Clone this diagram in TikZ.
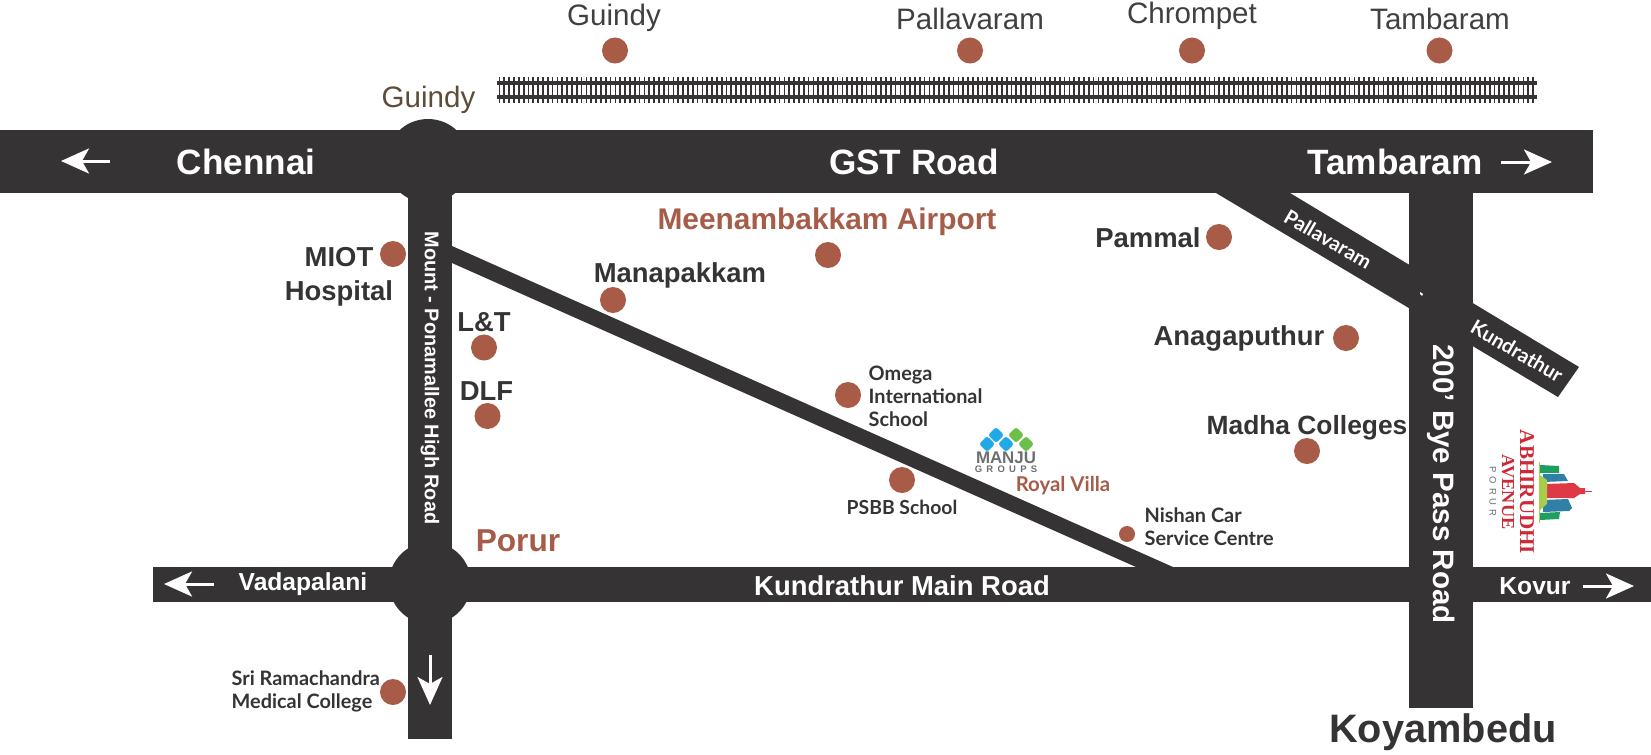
\documentclass[tikz,border=0pt]{standalone}
\usepackage{fontspec}
\usepackage{xcolor}
\usepackage{tikz}
\usetikzlibrary{arrows.meta}
\setmainfont{Liberation Sans}
\newfontfamily\latofont{Lato}
\newfontfamily\logofont{Liberation Serif}
\definecolor{roadc}{HTML}{353334}
\definecolor{dotc}{HTML}{A85C48}
\definecolor{brownt}{HTML}{A55D4A}
\definecolor{toptext}{HTML}{404040}
\definecolor{guindyt}{HTML}{5C4C38}
\definecolor{logored}{HTML}{CC2A36}
\definecolor{logogrey}{HTML}{6D6E70}
\definecolor{manjublue}{HTML}{1FA9E6}
\definecolor{manjugreen}{HTML}{6CC04A}
\definecolor{towergreen}{HTML}{1F9E62}
\definecolor{towerblue}{HTML}{2F7FA6}
\definecolor{towerred}{HTML}{DD3A46}
\definecolor{towerlime}{HTML}{A6CE48}
\tikzset{
  road/.style={fill=roadc, draw=none},
  rail/.style={draw=roadc, line width=0.35mm},
  tie/.style={draw=roadc, line width=0.17mm},
  pt/.style={circle, fill=dotc, draw=none, minimum size=2.6mm, inner sep=0pt},
  smallpt/.style={circle, fill=dotc, draw=none, minimum size=1.6mm, inner sep=0pt},
  arroww/.style={draw=white, line width=0.3mm, -{Stealth[length=2.8mm,width=2.5mm,inset=0.7mm]}},
  stationlab/.style={text=toptext, font=\fontsize{8.4}{10}\selectfont, inner sep=0pt},
  bigroad/.style={text=white, font=\fontsize{10}{12}\selectfont\bfseries, inner sep=0pt},
  midroad/.style={text=white, font=\fontsize{7}{9}\selectfont\bfseries, inner sep=0pt},
  place/.style={text=roadc, font=\fontsize{7.8}{9.6}\selectfont\bfseries, inner sep=0pt},
  small/.style={text=roadc, font=\fontsize{5.65}{6.5}\selectfont\latofont\bfseries, inner sep=0pt, align=left},
  slant/.style={text=white, font=\fontsize{5.7}{6.4}\selectfont\latofont\bfseries, inner sep=0pt, rotate=-30},
  diam/.style={rounded corners=0.25mm},
}

\begin{document}
\begin{tikzpicture}[x=0.01cm, y=-0.01cm]
  \useasboundingbox (0,0) rectangle (1651,754);

  % railway line
  \foreach \x in {0,...,214}
    \draw[tie] ({499.5+4.83*\x},77) -- ({499.5+4.83*\x},103);
  \draw[rail] (497,83) -- (1537,83);
  \draw[rail] (497,97) -- (1537,97);

  % roads
  \fill[road] (428,161) circle (42);
  \fill[road] (430,583) circle (41);
  \fill[road] (0,130) rectangle (1593,193);
  \fill[road] (408,193) rectangle (452,739);
  \fill[road] (153,567) rectangle (1651,602);
  \fill[road] (1409,193) rectangle (1473,708);
  \fill[road] (1216,193) -- (1290,193) -- (1579,367) -- (1558,397) -- cycle;
  \fill[road] (452,246) -- (1173,567) -- (1136,567) -- (452,263) -- cycle;
  \fill[white] (1420,292) -- (1423,294) -- (1422,296) -- (1420,294) -- cycle;

  % arrows
  \coordinate (chennaiS) at (110,161);
  \coordinate (chennaiE) at (61,161);
  \coordinate (tambaramS) at (1501,162);
  \coordinate (tambaramE) at (1552,162);
  \coordinate (vadaS) at (214,584);
  \coordinate (vadaE) at (164,584);
  \coordinate (kovurS) at (1583,586);
  \coordinate (kovurE) at (1634,586);
  \coordinate (downS) at (430,655);
  \coordinate (downE) at (430,705);
  \draw[arroww] (chennaiS) -- (chennaiE);
  \draw[arroww] (tambaramS) -- (tambaramE);
  \draw[arroww] (vadaS) -- (vadaE);
  \draw[arroww] (kovurS) -- (kovurE);
  \draw[arroww] (downS) -- (downE);

  % dots
  \node[pt] (dGuindy) at (615,50.5) {};
  \node[pt] (dPallavaram) at (970,50.5) {};
  \node[pt] (dChrompet) at (1192,50.5) {};
  \node[pt] (dTambaram) at (1439.5,50.5) {};
  \node[pt] (dMiot) at (393,254) {};
  \node[pt] (dManapakkam) at (613,300) {};
  \node[pt] (dAirport) at (828,255) {};
  \node[pt] (dPammal) at (1219,237) {};
  \node[pt] (dAnagaputhur) at (1346,338) {};
  \node[pt] (dLT) at (484,347.5) {};
  \node[pt] (dDLF) at (487.5,416) {};
  \node[pt] (dOmega) at (848,395) {};
  \node[pt] (dPsbb) at (902,480) {};
  \node[pt] (dMadha) at (1307,451) {};
  \node[smallpt] (dNishan) at (1127,534) {};
  \node[pt] (dSri) at (393,692) {};

  % station labels
  \node[stationlab] (lGuindy) at (614,18) {Guindy};
  \node[stationlab] (lPallavaram) at (970,19) {Pallavaram};
  \node[stationlab] (lChrompet) at (1192,16) {Chrompet};
  \node[stationlab] (lTambaram) at (1440,19) {Tambaram};
  \node[stationlab,text=guindyt] (lGuindyRoad) at (428.5,100) {Guindy};

  % road labels
  \node[bigroad] (rChennai) at (246,162) {Chennai};
  \node[bigroad] (rGst) at (914,162) {GST Road};
  \node[bigroad] (rTambaram) at (1395,162) {Tambaram};
  \node[midroad] (rVada) at (303,584) {Vadapalani};
  \node[midroad,font=\fontsize{7.8}{9}\selectfont\bfseries] (rKundrathur) at (902,586) {Kundrathur Main Road};
  \node[midroad] (rKovur) at (1535,586) {Kovur};
  \node[midroad,font=\fontsize{5.65}{7}\selectfont\bfseries,rotate=-90] (rMount) at (430,378) {Mount - Ponamallee High Road};
  \node[midroad,font=\fontsize{8.4}{10}\selectfont\bfseries,rotate=-90] (rBye) at (1441.5,484) {200’ Bye Pass Road};
  \node[slant] (rPallavaram) at (1328,239) {Pallavaram};
  \node[slant] (rKundr) at (1517,351) {Kundrathur};

  % place labels
  \node[place,text=brownt,font=\fontsize{8.5}{10}\selectfont\bfseries] (lAirport) at (827,222) {Meenambakkam Airport};
  \node[place] (lManapakkam) at (680,275) {Manapakkam};
  \node[place] (lPammal) at (1148,238) {Pammal};
  \node[place] (lAnagaputhur) at (1239,338) {Anagaputhur};
  \node[place,font=\fontsize{7.5}{9.6}\selectfont\bfseries] (lMadha) at (1307,428) {Madha Colleges};
  \node[place,align=center] (lMiot) at (339,277) {MIOT\\Hospital};
  \node[place] (lLT) at (484,322) {L\&T};
  \node[place] (lDLF) at (486.5,391) {DLF};
  \node[place,text=brownt,font=\fontsize{9}{10}\selectfont\bfseries] (lPorur) at (518,541) {Porur};
  \node[place,font=\fontsize{11.3}{13}\selectfont\bfseries] (lKoyambedu) at (1443,732) {Koyambedu};
  \node[small,anchor=west] (lOmega) at (868,396) {Omega\\International\\School};
  \node[small,font=\fontsize{5.5}{6.5}\selectfont\latofont\bfseries] (lPsbb) at (902,507) {PSBB School};
  \node[small,anchor=west] (lNishan) at (1144,527) {Nishan Car\\Service Centre};
  \node[small,anchor=west] (lSri) at (231,691) {Sri Ramachandra\\Medical College};
  \node[small,text=brownt,font=\fontsize{5.8}{6.5}\selectfont\latofont\bfseries] (lRoyal) at (1063,486) {Royal Villa};

  % manju logo
  \fill[diam,fill=manjublue] (987,436) -- (995,444) -- (987,452) -- (979,444) -- cycle;
  \fill[diam,fill=manjublue] (996,427) -- (1004,435) -- (996,443) -- (988,435) -- cycle;
  \fill[diam,fill=manjublue] (1006,436) -- (1014,444) -- (1006,452) -- (998,444) -- cycle;
  \fill[diam,fill=manjugreen] (1016,427) -- (1024,435) -- (1016,443) -- (1008,435) -- cycle;
  \fill[diam,fill=manjugreen] (1026,436) -- (1034,444) -- (1026,452) -- (1018,444) -- cycle;
  \node[inner sep=0pt,text=logogrey,font=\fontsize{4.8}{5}\selectfont\bfseries] (lManju) at (1006,458) {MANJU};
  \node[inner sep=0pt,text=logogrey,font=\fontsize{2.7}{3}\selectfont\bfseries\addfontfeature{LetterSpace=45}] (lGroups) at (1006,469.5) {GROUPS};

  % abhirudhi logo
  \node[inner sep=0pt,rotate=-90,text=logored,font=\fontsize{6}{7}\selectfont\logofont\bfseries] (lAbhi) at (1527,492) {ABHIRUDHI};
  \node[inner sep=0pt,rotate=-90,text=logored,font=\fontsize{5.2}{7}\selectfont\logofont\bfseries] (lAve) at (1508,492) {AVENUE};
  \node[inner sep=0pt,rotate=-90,text=logogrey,font=\fontsize{2.7}{3}\selectfont\addfontfeature{LetterSpace=40}] (lPor) at (1493,491.5) {PORUR};
  \fill[fill=towergreen] (1540,465) -- (1559,466) -- (1559,473) -- (1540,473) -- cycle;
  \fill[fill=towerblue] (1543,474) -- (1564,474) -- (1568,481) -- (1543,482) -- cycle;
  \fill[fill=towerred] (1545,484) -- (1574,483) -- (1580,488) -- (1585,488) -- (1585,494) -- (1580,494) -- (1574,498) -- (1545,498) -- cycle;
  \fill[fill=towerblue] (1543,500) -- (1568,499) -- (1572,508) -- (1569,511) -- (1543,512) -- cycle;
  \fill[fill=towergreen] (1540,513) -- (1560,512) -- (1559,519) -- (1540,520) -- cycle;
  \fill[fill=towerlime] (1540,475) -- (1547,480) -- (1547,504) -- (1540,510) -- cycle;
  \draw[draw=towerlime,line width=0.1mm] (1539,462) -- (1539,523);
  \draw[draw=towerred,line width=0.08mm] (1585,491) -- (1592,491);
\end{tikzpicture}
\end{document}
